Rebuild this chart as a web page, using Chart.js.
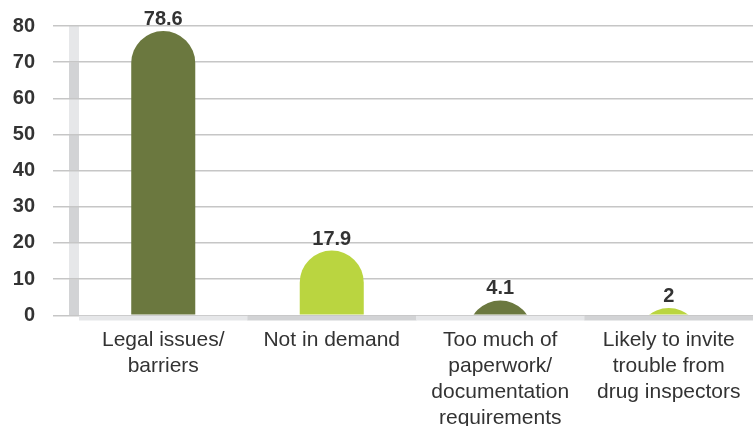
<!DOCTYPE html>
<html><head><meta charset="utf-8">
<script src="https://cdn.jsdelivr.net/npm/chart.js@4.4.1/dist/chart.umd.min.js"></script>
<style>html,body{margin:0;padding:0;background:#fff}#wrap{width:753px;height:426px}</style>
</head><body><div id="wrap"><canvas id="c" width="753" height="426"></canvas></div>
<script>
const categories = [
  ['Legal issues/', 'barriers'],
  ['Not in demand'],
  ['Too much of', 'paperwork/', 'documentation', 'requirements'],
  ['Likely to invite', 'trouble from', 'drug inspectors']
];
const values = [78.6, 17.9, 4.1, 2];
const valueLabels = ['78.6', '17.9', '4.1', '2'];
const barColors = ['#6b783f', '#bad540', '#6b783f', '#bad540'];
const yMin = 0, yMax = 80, yStep = 10;

const decor = {
  id: 'decor',
  beforeDraw(chart) {
    const {ctx, chartArea: a, scales: {y}} = chart;
    for (let v = yMin; v < yMax; v += yStep) {
      const top = y.getPixelForValue(v + yStep), bot = y.getPixelForValue(v);
      ctx.fillStyle = ((v / yStep) % 2 === 0) ? '#d2d3d5' : '#e6e7e9';
      ctx.fillRect(a.left - 10, top, 10, bot - top);
    }
  },
  beforeDatasetsDraw(chart) {
    const {ctx, chartArea: a} = chart;
    const n = categories.length;
    const w = a.width / n;
    for (let i = 0; i < n; i++) {
      ctx.fillStyle = (i % 2 === 0) ? '#e6e7e9' : '#d2d3d5';
      ctx.fillRect(a.left + i * w, a.bottom + 0.5, w + 0.5, 4.7);
    }
  },
  beforeDatasetDraw(chart, args) {
    const {ctx, chartArea: a} = chart;
    const meta = args.meta;
    meta.data.forEach((el, i) => {
      const r = el.width / 2;
      ctx.save();
      ctx.beginPath();
      ctx.rect(a.left, 0, a.width, el.base);
      ctx.clip();
      ctx.beginPath();
      ctx.moveTo(el.x - r, el.base + 1);
      ctx.lineTo(el.x - r, el.y + r);
      ctx.arc(el.x, el.y + r, r, Math.PI, 0);
      ctx.lineTo(el.x + r, el.base + 1);
      ctx.closePath();
      ctx.fillStyle = barColors[i];
      ctx.fill();
      ctx.restore();
    });
    return false;
  },
  afterDatasetsDraw(chart) {
    const {ctx} = chart;
    const meta = chart.getDatasetMeta(0);
    ctx.save();
    ctx.font = 'bold 20px "Liberation Sans", Arial, sans-serif';
    ctx.fillStyle = '#333333';
    ctx.textAlign = 'center';
    ctx.textBaseline = 'alphabetic';
    meta.data.forEach((el, i) => {
      ctx.fillText(valueLabels[i], el.x, el.y - 6);
    });
    ctx.restore();
  }
};

new Chart(document.getElementById('c'), {
  type: 'bar',
  data: {
    labels: categories,
    datasets: [{
      data: values,
      backgroundColor: barColors,
      barPercentage: 0.38,
      categoryPercentage: 1
    }]
  },
  options: {
    responsive: false,
    animation: false,
    devicePixelRatio: 1,
    layout: {padding: {top: 26, right: 0, left: 0, bottom: 0}},
    plugins: {legend: {display: false}, tooltip: {enabled: false}},
    scales: {
      x: {
        grid: {display: false, drawTicks: false},
        border: {display: false},
        ticks: {
          font: {family: '"Liberation Sans", Arial, sans-serif', size: 21, lineHeight: 1.24},
          color: '#333333',
          padding: 12,
          maxRotation: 0,
          autoSkip: false
        },
        afterFit(s) { s.height = 110.7; }
      },
      y: {
        min: yMin, max: yMax,
        grid: {color: '#c6c6c6', lineWidth: 1.5, drawTicks: true, tickLength: 26},
        border: {display: false},
        ticks: {
          stepSize: yStep,
          font: {family: '"Liberation Sans", Arial, sans-serif', size: 20, weight: 'bold'},
          color: '#333333',
          padding: 18
        },
        afterFit(s) { s.width = 79; s.paddingTop = 0; s.paddingBottom = 0; }
      }
    }
  },
  plugins: [decor]
});
</script>
</body></html>
